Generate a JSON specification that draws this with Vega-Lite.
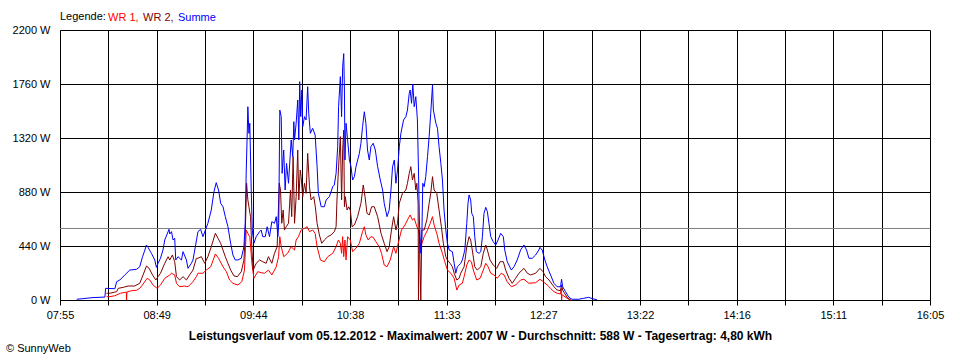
{
"$schema": "https://vega.github.io/schema/vega-lite/v6.json",
"width": 870, "height": 270,
"autosize": {"type": "none"},
"padding": {"left": 60, "top": 30, "right": 30, "bottom": 60},
"background": "white",
"config": {
  "view": {"stroke": null},
  "font": "Liberation Sans",
  "axis": {"domainColor": "#000", "gridColor": "#000", "gridOpacity": 1, "gridWidth": 1, "tickColor": "#000", "labelColor": "#000", "labelFont": "Liberation Sans", "labelFontSize": 11, "titleColor": "#000"}
},
"title": {"text": "© SunnyWeb", "orient": "bottom", "anchor": "start", "frame": "group", "fontSize": 11, "fontWeight": "normal", "font": "Liberation Sans", "color": "#000", "dx": -54, "offset": 2},
"layer": [
 {
  "data": {"values": [{"avg": 588}]},
  "mark": {"type": "rule", "color": "#808080", "strokeWidth": 1, "yOffset": 0.66},
  "encoding": {"y": {"field": "avg", "type": "quantitative", "scale": {"domain": [0, 2200], "nice": false}, "title": null}}
 },
 {
  "data": {"values": [
{"s":"WR 1","t":501.2,"w":27},{"s":"WR 1","t":503.1,"w":27},{"s":"WR 1","t":505.9,"w":35},{"s":"WR 1","t":509.0,"w":55},{"s":"WR 1","t":511.8,"w":63},{"s":"WR 1","t":512.3,"w":65},{"s":"WR 1","t":512.5,"w":0},{"s":"WR 1","t":512.7,"w":65},{"s":"WR 1","t":515.3,"w":76},{"s":"WR 1","t":518.1,"w":79},{"s":"WR 1","t":519.9,"w":95},{"s":"WR 1","t":521.8,"w":130},{"s":"WR 1","t":524.1,"w":177},{"s":"WR 1","t":525.6,"w":163},{"s":"WR 1","t":527.4,"w":122},{"s":"WR 1","t":529.7,"w":95},{"s":"WR 1","t":531.6,"w":122},{"s":"WR 1","t":534.0,"w":177},{"s":"WR 1","t":536.8,"w":204},{"s":"WR 1","t":537.8,"w":218},{"s":"WR 1","t":539.6,"w":204},{"s":"WR 1","t":540.6,"w":136},{"s":"WR 1","t":542.4,"w":108},{"s":"WR 1","t":545.2,"w":114},{"s":"WR 1","t":547.1,"w":108},{"s":"WR 1","t":549.9,"w":149},{"s":"WR 1","t":551.8,"w":190},{"s":"WR 1","t":552.7,"w":218},{"s":"WR 1","t":555.5,"w":218},{"s":"WR 1","t":557.4,"w":244},{"s":"WR 1","t":559.9,"w":271},{"s":"WR 1","t":562.5,"w":375},{"s":"WR 1","t":564.3,"w":340},{"s":"WR 1","t":566.8,"w":271},{"s":"WR 1","t":568.7,"w":231},{"s":"WR 1","t":570.5,"w":163},{"s":"WR 1","t":572.4,"w":136},{"s":"WR 1","t":575.2,"w":122},{"s":"WR 1","t":577.4,"w":149},{"s":"WR 1","t":578.9,"w":244},{"s":"WR 1","t":579.9,"w":570},{"s":"WR 1","t":580.8,"w":543},{"s":"WR 1","t":581.9,"w":516},{"s":"WR 1","t":583.1,"w":299},{"s":"WR 1","t":584.2,"w":177},{"s":"WR 1","t":586.4,"w":231},{"s":"WR 1","t":588.3,"w":222},{"s":"WR 1","t":590.2,"w":218},{"s":"WR 1","t":592.4,"w":244},{"s":"WR 1","t":594.3,"w":204},{"s":"WR 1","t":596.8,"w":271},{"s":"WR 1","t":598.1,"w":353},{"s":"WR 1","t":598.8,"w":516},{"s":"WR 1","t":599.6,"w":434},{"s":"WR 1","t":601.0,"w":353},{"s":"WR 1","t":603.2,"w":380},{"s":"WR 1","t":605.2,"w":434},{"s":"WR 1","t":607.1,"w":407},{"s":"WR 1","t":608.0,"w":489},{"s":"WR 1","t":609.3,"w":516},{"s":"WR 1","t":610.8,"w":570},{"s":"WR 1","t":612.7,"w":584},{"s":"WR 1","t":614.2,"w":597},{"s":"WR 1","t":615.5,"w":557},{"s":"WR 1","t":617.3,"w":570},{"s":"WR 1","t":618.7,"w":543},{"s":"WR 1","t":619.8,"w":434},{"s":"WR 1","t":621.7,"w":326},{"s":"WR 1","t":623.9,"w":312},{"s":"WR 1","t":625.8,"w":353},{"s":"WR 1","t":628.6,"w":380},{"s":"WR 1","t":630.5,"w":434},{"s":"WR 1","t":631.8,"w":489},{"s":"WR 1","t":632.9,"w":462},{"s":"WR 1","t":633.6,"w":380},{"s":"WR 1","t":634.2,"w":516},{"s":"WR 1","t":634.8,"w":353},{"s":"WR 1","t":635.5,"w":489},{"s":"WR 1","t":636.1,"w":326},{"s":"WR 1","t":637.0,"w":516},{"s":"WR 1","t":638.5,"w":489},{"s":"WR 1","t":639.8,"w":394},{"s":"WR 1","t":641.7,"w":421},{"s":"WR 1","t":643.6,"w":462},{"s":"WR 1","t":645.4,"w":557},{"s":"WR 1","t":646.4,"w":597},{"s":"WR 1","t":647.3,"w":530},{"s":"WR 1","t":648.6,"w":489},{"s":"WR 1","t":650.1,"w":516},{"s":"WR 1","t":651.4,"w":511},{"s":"WR 1","t":652.9,"w":475},{"s":"WR 1","t":654.8,"w":434},{"s":"WR 1","t":656.1,"w":380},{"s":"WR 1","t":657.6,"w":285},{"s":"WR 1","t":659.2,"w":271},{"s":"WR 1","t":661.0,"w":326},{"s":"WR 1","t":662.9,"w":434},{"s":"WR 1","t":664.2,"w":380},{"s":"WR 1","t":665.5,"w":462},{"s":"WR 1","t":667.3,"w":570},{"s":"WR 1","t":669.3,"w":611},{"s":"WR 1","t":670.7,"w":652},{"s":"WR 1","t":672.2,"w":693},{"s":"WR 1","t":673.5,"w":652},{"s":"WR 1","t":674.5,"w":666},{"s":"WR 1","t":676.0,"w":597},{"s":"WR 1","t":676.9,"w":570},{"s":"WR 1","t":678.2,"w":434},{"s":"WR 1","t":680.1,"w":516},{"s":"WR 1","t":682.0,"w":570},{"s":"WR 1","t":683.5,"w":625},{"s":"WR 1","t":684.8,"w":679},{"s":"WR 1","t":685.7,"w":611},{"s":"WR 1","t":687.2,"w":543},{"s":"WR 1","t":688.5,"w":462},{"s":"WR 1","t":690.4,"w":380},{"s":"WR 1","t":691.7,"w":312},{"s":"WR 1","t":693.2,"w":244},{"s":"WR 1","t":695.1,"w":218},{"s":"WR 1","t":697.0,"w":177},{"s":"WR 1","t":698.5,"w":81},{"s":"WR 1","t":699.8,"w":122},{"s":"WR 1","t":701.6,"w":136},{"s":"WR 1","t":702.6,"w":190},{"s":"WR 1","t":704.1,"w":285},{"s":"WR 1","t":705.4,"w":326},{"s":"WR 1","t":706.7,"w":312},{"s":"WR 1","t":707.8,"w":244},{"s":"WR 1","t":709.7,"w":163},{"s":"WR 1","t":711.6,"w":177},{"s":"WR 1","t":713.4,"w":244},{"s":"WR 1","t":714.8,"w":299},{"s":"WR 1","t":716.1,"w":271},{"s":"WR 1","t":717.6,"w":218},{"s":"WR 1","t":719.4,"w":204},{"s":"WR 1","t":721.3,"w":177},{"s":"WR 1","t":723.5,"w":218},{"s":"WR 1","t":725.1,"w":204},{"s":"WR 1","t":726.9,"w":149},{"s":"WR 1","t":729.2,"w":108},{"s":"WR 1","t":731.6,"w":122},{"s":"WR 1","t":734.4,"w":163},{"s":"WR 1","t":736.3,"w":169},{"s":"WR 1","t":739.1,"w":136},{"s":"WR 1","t":742.9,"w":141},{"s":"WR 1","t":745.3,"w":169},{"s":"WR 1","t":747.2,"w":149},{"s":"WR 1","t":749.4,"w":122},{"s":"WR 1","t":751.3,"w":95},{"s":"WR 1","t":753.2,"w":68},{"s":"WR 1","t":755.0,"w":55},{"s":"WR 1","t":756.9,"w":49},{"s":"WR 1","t":757.3,"w":95},{"s":"WR 1","t":757.5,"w":0},{"s":"WR 1","t":757.8,"w":43},{"s":"WR 1","t":760.6,"w":14},{"s":"WR 1","t":762.6,"w":0},
{"s":"WR 2","t":501.2,"w":55},{"s":"WR 2","t":503.1,"w":55},{"s":"WR 2","t":506.9,"w":68},{"s":"WR 2","t":507.8,"w":95},{"s":"WR 2","t":510.6,"w":103},{"s":"WR 2","t":513.4,"w":114},{"s":"WR 2","t":517.1,"w":114},{"s":"WR 2","t":519.9,"w":136},{"s":"WR 2","t":521.8,"w":204},{"s":"WR 2","t":523.7,"w":277},{"s":"WR 2","t":525.2,"w":258},{"s":"WR 2","t":527.1,"w":204},{"s":"WR 2","t":529.0,"w":163},{"s":"WR 2","t":530.2,"w":190},{"s":"WR 2","t":531.6,"w":218},{"s":"WR 2","t":534.0,"w":299},{"s":"WR 2","t":535.9,"w":353},{"s":"WR 2","t":536.8,"w":326},{"s":"WR 2","t":538.3,"w":367},{"s":"WR 2","t":539.6,"w":312},{"s":"WR 2","t":540.6,"w":190},{"s":"WR 2","t":542.4,"w":163},{"s":"WR 2","t":544.3,"w":190},{"s":"WR 2","t":546.2,"w":163},{"s":"WR 2","t":548.0,"w":204},{"s":"WR 2","t":549.9,"w":244},{"s":"WR 2","t":551.8,"w":340},{"s":"WR 2","t":552.7,"w":340},{"s":"WR 2","t":554.6,"w":353},{"s":"WR 2","t":556.5,"w":299},{"s":"WR 2","t":558.3,"w":353},{"s":"WR 2","t":560.2,"w":434},{"s":"WR 2","t":562.5,"w":543},{"s":"WR 2","t":564.0,"w":503},{"s":"WR 2","t":565.5,"w":462},{"s":"WR 2","t":566.8,"w":407},{"s":"WR 2","t":568.1,"w":353},{"s":"WR 2","t":569.6,"w":299},{"s":"WR 2","t":571.1,"w":244},{"s":"WR 2","t":573.0,"w":196},{"s":"WR 2","t":574.9,"w":190},{"s":"WR 2","t":577.1,"w":231},{"s":"WR 2","t":578.6,"w":326},{"s":"WR 2","t":579.3,"w":516},{"s":"WR 2","t":580.1,"w":951},{"s":"WR 2","t":580.8,"w":815},{"s":"WR 2","t":581.4,"w":760},{"s":"WR 2","t":582.3,"w":679},{"s":"WR 2","t":583.1,"w":407},{"s":"WR 2","t":583.8,"w":244},{"s":"WR 2","t":585.5,"w":299},{"s":"WR 2","t":587.4,"w":326},{"s":"WR 2","t":589.2,"w":312},{"s":"WR 2","t":591.1,"w":299},{"s":"WR 2","t":592.4,"w":353},{"s":"WR 2","t":594.3,"w":299},{"s":"WR 2","t":595.8,"w":380},{"s":"WR 2","t":597.3,"w":434},{"s":"WR 2","t":598.5,"w":951},{"s":"WR 2","t":599.2,"w":896},{"s":"WR 2","t":599.9,"w":625},{"s":"WR 2","t":600.7,"w":733},{"s":"WR 2","t":601.4,"w":570},{"s":"WR 2","t":602.4,"w":597},{"s":"WR 2","t":603.7,"w":625},{"s":"WR 2","t":604.8,"w":896},{"s":"WR 2","t":605.5,"w":679},{"s":"WR 2","t":606.3,"w":1168},{"s":"WR 2","t":607.1,"w":625},{"s":"WR 2","t":608.0,"w":842},{"s":"WR 2","t":608.9,"w":1222},{"s":"WR 2","t":609.5,"w":815},{"s":"WR 2","t":610.3,"w":1059},{"s":"WR 2","t":610.8,"w":1005},{"s":"WR 2","t":611.7,"w":842},{"s":"WR 2","t":612.7,"w":951},{"s":"WR 2","t":613.6,"w":869},{"s":"WR 2","t":614.5,"w":1195},{"s":"WR 2","t":615.5,"w":923},{"s":"WR 2","t":616.4,"w":815},{"s":"WR 2","t":617.9,"w":842},{"s":"WR 2","t":618.8,"w":760},{"s":"WR 2","t":619.8,"w":625},{"s":"WR 2","t":621.1,"w":530},{"s":"WR 2","t":622.4,"w":462},{"s":"WR 2","t":623.9,"w":489},{"s":"WR 2","t":625.8,"w":516},{"s":"WR 2","t":627.7,"w":530},{"s":"WR 2","t":629.5,"w":557},{"s":"WR 2","t":630.5,"w":597},{"s":"WR 2","t":631.0,"w":815},{"s":"WR 2","t":631.9,"w":1086},{"s":"WR 2","t":632.9,"w":1331},{"s":"WR 2","t":633.6,"w":815},{"s":"WR 2","t":634.2,"w":1222},{"s":"WR 2","t":634.8,"w":1385},{"s":"WR 2","t":635.2,"w":760},{"s":"WR 2","t":635.7,"w":842},{"s":"WR 2","t":636.7,"w":733},{"s":"WR 2","t":637.6,"w":760},{"s":"WR 2","t":638.5,"w":733},{"s":"WR 2","t":639.5,"w":597},{"s":"WR 2","t":640.8,"w":611},{"s":"WR 2","t":642.6,"w":679},{"s":"WR 2","t":644.5,"w":788},{"s":"WR 2","t":645.8,"w":937},{"s":"WR 2","t":646.8,"w":842},{"s":"WR 2","t":647.9,"w":706},{"s":"WR 2","t":649.2,"w":693},{"s":"WR 2","t":650.5,"w":760},{"s":"WR 2","t":652.0,"w":760},{"s":"WR 2","t":653.9,"w":679},{"s":"WR 2","t":655.8,"w":543},{"s":"WR 2","t":657.6,"w":462},{"s":"WR 2","t":659.2,"w":394},{"s":"WR 2","t":660.4,"w":434},{"s":"WR 2","t":661.7,"w":570},{"s":"WR 2","t":662.9,"w":679},{"s":"WR 2","t":664.2,"w":570},{"s":"WR 2","t":665.1,"w":625},{"s":"WR 2","t":666.1,"w":788},{"s":"WR 2","t":667.9,"w":869},{"s":"WR 2","t":669.8,"w":896},{"s":"WR 2","t":670.7,"w":951},{"s":"WR 2","t":671.7,"w":1032},{"s":"WR 2","t":672.6,"w":1086},{"s":"WR 2","t":673.5,"w":978},{"s":"WR 2","t":674.5,"w":1032},{"s":"WR 2","t":675.4,"w":896},{"s":"WR 2","t":676.0,"w":951},{"s":"WR 2","t":676.7,"w":788},{"s":"WR 2","t":676.9,"w":0},{"s":"WR 2","t":677.4,"w":570},{"s":"WR 2","t":678.2,"w":0},{"s":"WR 2","t":678.8,"w":570},{"s":"WR 2","t":680.1,"w":570},{"s":"WR 2","t":681.6,"w":652},{"s":"WR 2","t":682.9,"w":788},{"s":"WR 2","t":683.8,"w":869},{"s":"WR 2","t":684.8,"w":1005},{"s":"WR 2","t":685.7,"w":896},{"s":"WR 2","t":687.2,"w":869},{"s":"WR 2","t":688.5,"w":733},{"s":"WR 2","t":689.8,"w":597},{"s":"WR 2","t":690.9,"w":462},{"s":"WR 2","t":692.3,"w":353},{"s":"WR 2","t":693.2,"w":326},{"s":"WR 2","t":694.7,"w":299},{"s":"WR 2","t":696.0,"w":271},{"s":"WR 2","t":697.0,"w":218},{"s":"WR 2","t":698.5,"w":163},{"s":"WR 2","t":699.8,"w":177},{"s":"WR 2","t":700.7,"w":218},{"s":"WR 2","t":702.6,"w":271},{"s":"WR 2","t":704.1,"w":434},{"s":"WR 2","t":705.4,"w":516},{"s":"WR 2","t":706.3,"w":489},{"s":"WR 2","t":707.2,"w":407},{"s":"WR 2","t":708.6,"w":271},{"s":"WR 2","t":710.0,"w":244},{"s":"WR 2","t":712.0,"w":271},{"s":"WR 2","t":713.4,"w":380},{"s":"WR 2","t":714.8,"w":448},{"s":"WR 2","t":715.7,"w":407},{"s":"WR 2","t":717.2,"w":326},{"s":"WR 2","t":719.0,"w":285},{"s":"WR 2","t":721.0,"w":258},{"s":"WR 2","t":722.8,"w":312},{"s":"WR 2","t":724.7,"w":312},{"s":"WR 2","t":726.0,"w":244},{"s":"WR 2","t":727.9,"w":177},{"s":"WR 2","t":729.7,"w":136},{"s":"WR 2","t":731.6,"w":177},{"s":"WR 2","t":733.5,"w":218},{"s":"WR 2","t":736.3,"w":258},{"s":"WR 2","t":738.2,"w":218},{"s":"WR 2","t":740.1,"w":204},{"s":"WR 2","t":742.9,"w":218},{"s":"WR 2","t":745.3,"w":258},{"s":"WR 2","t":747.0,"w":231},{"s":"WR 2","t":748.5,"w":190},{"s":"WR 2","t":750.4,"w":163},{"s":"WR 2","t":753.2,"w":108},{"s":"WR 2","t":755.0,"w":81},{"s":"WR 2","t":756.9,"w":76},{"s":"WR 2","t":757.5,"w":122},{"s":"WR 2","t":758.1,"w":81},{"s":"WR 2","t":760.6,"w":22},{"s":"WR 2","t":762.0,"w":6},{"s":"WR 2","t":762.7,"w":0},
{"s":"Summe","t":484.4,"w":6},{"s":"Summe","t":487.9,"w":11},{"s":"Summe","t":493.0,"w":19},{"s":"Summe","t":500.3,"w":24},{"s":"Summe","t":500.7,"w":95},{"s":"Summe","t":505.9,"w":92},{"s":"Summe","t":506.9,"w":149},{"s":"Summe","t":508.7,"w":163},{"s":"Summe","t":511.5,"w":204},{"s":"Summe","t":514.3,"w":244},{"s":"Summe","t":518.1,"w":250},{"s":"Summe","t":519.9,"w":271},{"s":"Summe","t":521.5,"w":353},{"s":"Summe","t":522.8,"w":407},{"s":"Summe","t":523.7,"w":448},{"s":"Summe","t":524.6,"w":429},{"s":"Summe","t":525.6,"w":402},{"s":"Summe","t":526.5,"w":380},{"s":"Summe","t":528.4,"w":326},{"s":"Summe","t":529.3,"w":266},{"s":"Summe","t":530.2,"w":299},{"s":"Summe","t":531.6,"w":340},{"s":"Summe","t":533.0,"w":407},{"s":"Summe","t":534.0,"w":489},{"s":"Summe","t":534.9,"w":521},{"s":"Summe","t":536.4,"w":576},{"s":"Summe","t":536.8,"w":538},{"s":"Summe","t":537.8,"w":557},{"s":"Summe","t":538.7,"w":489},{"s":"Summe","t":539.6,"w":503},{"s":"Summe","t":540.2,"w":326},{"s":"Summe","t":541.5,"w":353},{"s":"Summe","t":543.4,"w":326},{"s":"Summe","t":544.3,"w":394},{"s":"Summe","t":546.2,"w":326},{"s":"Summe","t":547.1,"w":258},{"s":"Summe","t":549.0,"w":299},{"s":"Summe","t":549.9,"w":326},{"s":"Summe","t":551.4,"w":448},{"s":"Summe","t":552.7,"w":557},{"s":"Summe","t":554.2,"w":576},{"s":"Summe","t":555.5,"w":516},{"s":"Summe","t":556.9,"w":570},{"s":"Summe","t":558.3,"w":625},{"s":"Summe","t":560.2,"w":733},{"s":"Summe","t":561.7,"w":882},{"s":"Summe","t":563.0,"w":956},{"s":"Summe","t":564.3,"w":896},{"s":"Summe","t":565.5,"w":788},{"s":"Summe","t":566.8,"w":760},{"s":"Summe","t":568.1,"w":679},{"s":"Summe","t":569.6,"w":597},{"s":"Summe","t":571.1,"w":462},{"s":"Summe","t":572.4,"w":367},{"s":"Summe","t":573.7,"w":326},{"s":"Summe","t":575.2,"w":326},{"s":"Summe","t":577.1,"w":340},{"s":"Summe","t":578.6,"w":434},{"s":"Summe","t":579.3,"w":625},{"s":"Summe","t":579.9,"w":1059},{"s":"Summe","t":580.5,"w":1385},{"s":"Summe","t":580.8,"w":1575},{"s":"Summe","t":581.4,"w":1358},{"s":"Summe","t":581.9,"w":1440},{"s":"Summe","t":582.7,"w":896},{"s":"Summe","t":583.3,"w":570},{"s":"Summe","t":584.2,"w":462},{"s":"Summe","t":585.5,"w":516},{"s":"Summe","t":587.4,"w":557},{"s":"Summe","t":588.3,"w":570},{"s":"Summe","t":589.2,"w":516},{"s":"Summe","t":590.6,"w":516},{"s":"Summe","t":591.7,"w":597},{"s":"Summe","t":593.0,"w":516},{"s":"Summe","t":594.3,"w":638},{"s":"Summe","t":595.8,"w":625},{"s":"Summe","t":596.8,"w":679},{"s":"Summe","t":597.7,"w":516},{"s":"Summe","t":598.2,"w":625},{"s":"Summe","t":598.8,"w":1548},{"s":"Summe","t":599.6,"w":1494},{"s":"Summe","t":600.1,"w":1032},{"s":"Summe","t":601.0,"w":1222},{"s":"Summe","t":601.8,"w":896},{"s":"Summe","t":602.6,"w":1114},{"s":"Summe","t":603.7,"w":951},{"s":"Summe","t":605.2,"w":1304},{"s":"Summe","t":606.1,"w":1168},{"s":"Summe","t":606.7,"w":1453},{"s":"Summe","t":607.1,"w":1304},{"s":"Summe","t":608.0,"w":1440},{"s":"Summe","t":608.9,"w":1630},{"s":"Summe","t":609.5,"w":1304},{"s":"Summe","t":610.0,"w":1779},{"s":"Summe","t":610.6,"w":1494},{"s":"Summe","t":611.2,"w":1711},{"s":"Summe","t":611.7,"w":1412},{"s":"Summe","t":612.7,"w":1494},{"s":"Summe","t":613.6,"w":1467},{"s":"Summe","t":614.5,"w":1738},{"s":"Summe","t":615.1,"w":1521},{"s":"Summe","t":616.0,"w":1358},{"s":"Summe","t":617.3,"w":1399},{"s":"Summe","t":618.7,"w":1344},{"s":"Summe","t":619.8,"w":1086},{"s":"Summe","t":620.5,"w":869},{"s":"Summe","t":622.1,"w":760},{"s":"Summe","t":623.9,"w":760},{"s":"Summe","t":624.9,"w":815},{"s":"Summe","t":626.7,"w":842},{"s":"Summe","t":628.6,"w":923},{"s":"Summe","t":629.5,"w":937},{"s":"Summe","t":630.5,"w":1032},{"s":"Summe","t":631.4,"w":1249},{"s":"Summe","t":631.9,"w":1575},{"s":"Summe","t":632.9,"w":1820},{"s":"Summe","t":633.6,"w":1494},{"s":"Summe","t":634.2,"w":1901},{"s":"Summe","t":634.8,"w":2007},{"s":"Summe","t":635.2,"w":1711},{"s":"Summe","t":635.5,"w":1141},{"s":"Summe","t":636.1,"w":1440},{"s":"Summe","t":637.0,"w":1304},{"s":"Summe","t":638.0,"w":1141},{"s":"Summe","t":638.9,"w":1086},{"s":"Summe","t":639.8,"w":978},{"s":"Summe","t":640.8,"w":1005},{"s":"Summe","t":641.7,"w":1086},{"s":"Summe","t":643.6,"w":1195},{"s":"Summe","t":644.5,"w":1277},{"s":"Summe","t":645.4,"w":1412},{"s":"Summe","t":646.4,"w":1534},{"s":"Summe","t":647.3,"w":1440},{"s":"Summe","t":648.2,"w":1222},{"s":"Summe","t":649.2,"w":1141},{"s":"Summe","t":650.1,"w":1249},{"s":"Summe","t":651.4,"w":1277},{"s":"Summe","t":652.6,"w":1222},{"s":"Summe","t":653.9,"w":1086},{"s":"Summe","t":655.4,"w":978},{"s":"Summe","t":656.7,"w":896},{"s":"Summe","t":657.6,"w":788},{"s":"Summe","t":659.2,"w":679},{"s":"Summe","t":660.4,"w":733},{"s":"Summe","t":661.4,"w":896},{"s":"Summe","t":662.3,"w":1086},{"s":"Summe","t":663.3,"w":1141},{"s":"Summe","t":664.2,"w":951},{"s":"Summe","t":665.1,"w":1059},{"s":"Summe","t":666.1,"w":1249},{"s":"Summe","t":667.0,"w":1358},{"s":"Summe","t":668.5,"w":1467},{"s":"Summe","t":669.8,"w":1494},{"s":"Summe","t":670.7,"w":1548},{"s":"Summe","t":671.7,"w":1684},{"s":"Summe","t":672.2,"w":1711},{"s":"Summe","t":673.0,"w":1603},{"s":"Summe","t":673.7,"w":1760},{"s":"Summe","t":674.5,"w":1575},{"s":"Summe","t":675.4,"w":1657},{"s":"Summe","t":676.3,"w":1467},{"s":"Summe","t":676.9,"w":1059},{"s":"Summe","t":677.4,"w":652},{"s":"Summe","t":678.2,"w":381},{"s":"Summe","t":678.8,"w":516},{"s":"Summe","t":679.3,"w":951},{"s":"Summe","t":680.1,"w":923},{"s":"Summe","t":681.0,"w":1005},{"s":"Summe","t":682.0,"w":1168},{"s":"Summe","t":682.9,"w":1331},{"s":"Summe","t":683.8,"w":1521},{"s":"Summe","t":684.8,"w":1752},{"s":"Summe","t":685.3,"w":1548},{"s":"Summe","t":686.7,"w":1440},{"s":"Summe","t":687.6,"w":1399},{"s":"Summe","t":688.5,"w":1249},{"s":"Summe","t":689.5,"w":1114},{"s":"Summe","t":690.4,"w":978},{"s":"Summe","t":691.3,"w":733},{"s":"Summe","t":692.3,"w":570},{"s":"Summe","t":693.2,"w":462},{"s":"Summe","t":694.2,"w":407},{"s":"Summe","t":696.0,"w":394},{"s":"Summe","t":697.0,"w":299},{"s":"Summe","t":697.9,"w":218},{"s":"Summe","t":698.8,"w":271},{"s":"Summe","t":699.8,"w":285},{"s":"Summe","t":700.7,"w":299},{"s":"Summe","t":701.6,"w":326},{"s":"Summe","t":703.0,"w":407},{"s":"Summe","t":704.1,"w":625},{"s":"Summe","t":704.8,"w":788},{"s":"Summe","t":705.4,"w":856},{"s":"Summe","t":706.3,"w":815},{"s":"Summe","t":706.9,"w":706},{"s":"Summe","t":707.8,"w":679},{"s":"Summe","t":708.6,"w":516},{"s":"Summe","t":709.5,"w":394},{"s":"Summe","t":711.0,"w":380},{"s":"Summe","t":712.0,"w":394},{"s":"Summe","t":712.9,"w":516},{"s":"Summe","t":713.8,"w":706},{"s":"Summe","t":714.8,"w":755},{"s":"Summe","t":715.7,"w":720},{"s":"Summe","t":716.6,"w":625},{"s":"Summe","t":717.6,"w":516},{"s":"Summe","t":719.0,"w":475},{"s":"Summe","t":720.4,"w":448},{"s":"Summe","t":721.7,"w":489},{"s":"Summe","t":723.2,"w":543},{"s":"Summe","t":724.7,"w":516},{"s":"Summe","t":725.5,"w":407},{"s":"Summe","t":726.9,"w":312},{"s":"Summe","t":729.2,"w":244},{"s":"Summe","t":730.7,"w":271},{"s":"Summe","t":732.5,"w":326},{"s":"Summe","t":734.4,"w":407},{"s":"Summe","t":736.3,"w":448},{"s":"Summe","t":737.8,"w":407},{"s":"Summe","t":739.1,"w":340},{"s":"Summe","t":741.0,"w":340},{"s":"Summe","t":742.9,"w":367},{"s":"Summe","t":744.7,"w":407},{"s":"Summe","t":745.3,"w":429},{"s":"Summe","t":746.6,"w":407},{"s":"Summe","t":748.1,"w":326},{"s":"Summe","t":749.4,"w":271},{"s":"Summe","t":751.3,"w":204},{"s":"Summe","t":753.2,"w":136},{"s":"Summe","t":755.0,"w":108},{"s":"Summe","t":756.9,"w":108},{"s":"Summe","t":757.5,"w":169},{"s":"Summe","t":758.1,"w":108},{"s":"Summe","t":759.7,"w":68},{"s":"Summe","t":761.6,"w":22},{"s":"Summe","t":763.4,"w":6},{"s":"Summe","t":767.2,"w":6},{"s":"Summe","t":770.0,"w":14},{"s":"Summe","t":772.8,"w":22},{"s":"Summe","t":774.7,"w":11},{"s":"Summe","t":777.5,"w":2}
  ]},
  "mark": {"type": "line", "strokeWidth": 1},
  "encoding": {
    "x": {"field": "t", "type": "quantitative", "scale": {"domain": [475, 965], "nice": false, "zero": false},
      "axis": {"values": [475, 502.2222, 529.4444, 556.6667, 583.8889, 611.1111, 638.3333, 665.5556, 692.7778, 720, 747.2222, 774.4444, 801.6667, 828.8889, 856.1111, 883.3333, 910.5556, 937.7778, 965],
        "labelExpr": "round((datum.value-475)/27.2222)%2==0 ? timeFormat(datetime(2012,11,5,0,round(datum.value)),'%H:%M') : ''",
        "grid": true, "tickSize": 5, "labelPadding": 4, "labelFlush": false, "labelOverlap": false, "labelBound": false,
        "title": "Leistungsverlauf vom 05.12.2012 - Maximalwert: 2007 W - Durchschnitt: 588 W - Tagesertrag: 4,80 kWh",
        "titleFontSize": 12, "titleFontWeight": "bold", "titleFont": "Liberation Sans", "titleX": 420, "titleY": 30, "titleAlign": "center", "titleBaseline": "top"}},
    "y": {"field": "w", "type": "quantitative", "scale": {"domain": [0, 2200], "nice": false},
      "axis": {"values": [0, 440, 880, 1320, 1760, 2200], "labelExpr": "datum.value + ' W'", "grid": true, "ticks": false, "labelPadding": 10, "title": null}},
    "color": {"field": "s", "type": "nominal", "scale": {"domain": ["WR 1", "WR 2", "Summe"], "range": ["#FF0000", "#800000", "#0000FF"]},
      "legend": {"orient": "none", "legendX": 0, "legendY": -18, "direction": "horizontal", "title": "Legende:", "titleOrient": "left", "titleFontSize": 11, "titleFontWeight": "normal", "titleColor": "#000", "titleFont": "Liberation Sans", "titlePadding": 3, "labelFont": "Liberation Sans", "labelFontSize": 11, "symbolType": "circle", "symbolSize": 0, "symbolOpacity": 0, "symbolStrokeWidth": 0, "labelOffset": -12, "columnPadding": 4,
        "labelExpr": "datum.label == 'Summe' ? 'Summe' : datum.label + ','",
        "encode": {"labels": {"update": {"fill": {"scale": "color", "field": "value"}}}}}}
  }
 }
]
}
